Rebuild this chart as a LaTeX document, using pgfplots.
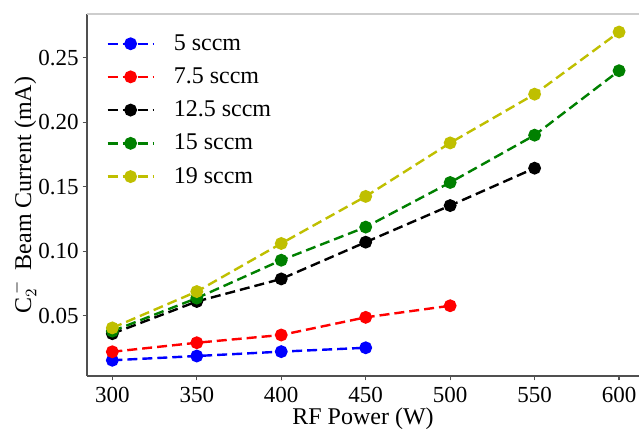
\documentclass[border=0pt]{standalone}
\usepackage{fontspec}
\setmainfont{Liberation Serif}
\usepackage{pgfplots}
\pgfplotsset{compat=1.18}

\definecolor{oliveY}{RGB}{191,191,0}
\definecolor{spinedark}{RGB}{80,80,80}
\definecolor{spinelight}{RGB}{205,205,205}

\begin{document}
\begin{tikzpicture}
\begin{axis}[
    name=ax, at={(0,0)}, anchor=south west,
    scale only axis,
    width=276pt,
    height=181pt,
    xmin=285, xmax=611.8,
    ymin=0.0032, ymax=0.284,
    axis lines=left,
    axis line style={spinedark, line width=0.7pt, -},
    xtick={300,350,...,600},
    ytick={0.05,0.10,...,0.25},
    yticklabel style={xshift=1.5pt, /pgf/number format/.cd, fixed, fixed zerofill, precision=2},
    /pgf/number format/assume math mode=true,
    tick style={spinedark, line width=0.6pt},
    tick align=outside,
    major tick length=2.2pt,
    ticklabel style={font=\fontsize{11.5}{13}\selectfont},
    label style={font=\fontsize{12}{13}\selectfont},
    xlabel={RF Power (W)},
    ylabel={C$_2^{\,-}$\, Beam Current (mA)},
    xlabel style={at={(axis description cs:0.5,0)}, anchor=center, yshift=-21.5pt},
    ylabel style={at={([xshift=-31.5pt]axis description cs:0,0.5)}, anchor=center},
    every axis plot/.append style={line width=1.2pt, dash pattern=on 5pt off 2.5pt, mark=*, mark size=2.6pt, mark options={solid}},
    legend style={at={(rel axis cs:0,1)}, anchor=north west, xshift=6.5pt, yshift=-6pt,
        draw=none, fill=none,
        font=\fontsize{12}{13}\selectfont, row sep=3.2pt,
        /tikz/every odd column/.append style={column sep=7.5pt}},
    legend cell align=left,
    legend image code/.code={\draw[mark repeat=2, mark phase=2, #1] plot coordinates {(0pt,0pt) (11.5pt,0pt) (23pt,0pt)};},
]
\draw[spinelight, line width=0.7pt] (rel axis cs:0,1) -- (rel axis cs:1,1);

\addplot[color=blue] coordinates {(300,0.0154) (350,0.0187) (400,0.0221) (450,0.0251)};
\addlegendentry{5 sccm}
\addplot[color=red] coordinates {(300,0.0220) (350,0.0290) (400,0.0350) (450,0.0487) (500,0.0577)};
\addlegendentry{7.5 sccm}
\addplot[color=black] coordinates {(300,0.0360) (350,0.0610) (400,0.0785) (450,0.1070) (500,0.1354) (550,0.1644)};
\addlegendentry{12.5 sccm}
\addplot[color={rgb,255:red,0;green,128;blue,0}] coordinates {(300,0.0380) (350,0.0636) (400,0.0930) (450,0.1187) (500,0.1533) (550,0.1900) (600,0.2400)};
\addlegendentry{15 sccm}
\addplot[color=oliveY] coordinates {(300,0.0405) (350,0.0687) (400,0.1060) (450,0.1425) (500,0.1840) (550,0.2218) (600,0.2700)};
\addlegendentry{19 sccm}
\end{axis}
\pgfresetboundingbox
\path[use as bounding box] (-43.5pt,-26.5pt) rectangle (276pt,188pt);
\end{tikzpicture}
\end{document}
